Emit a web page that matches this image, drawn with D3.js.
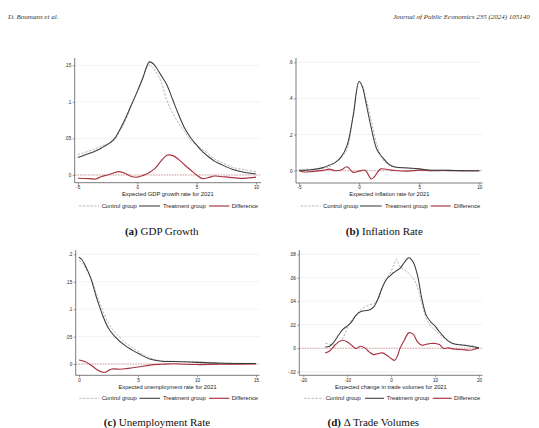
<!DOCTYPE html>
<html><head><meta charset="utf-8">
<script src="https://cdn.jsdelivr.net/npm/d3@7"></script>
<style>body{margin:0;background:#fff}svg{display:block}</style>
</head><body><svg id="c" width="539" height="428"></svg>
<script>
// ---- Panel (a) GDP growth ----
const aX = [-5,-4,-3,-2,-1.5,-1,-0.5,0,0.5,0.75,1,1.25,1.5,2,2.5,3,3.5,4,4.5,5,5.5,6,6.5,7,8,9,10];
const aT = [0.024,0.0296,0.037,0.048,0.061,0.077,0.0956,0.114,0.134,0.146,0.1545,0.1535,0.1494,0.1366,0.123,0.1025,0.082,0.0638,0.051,0.041,0.032,0.025,0.019,0.015,0.0078,0.0037,0.0014];
const aC = [0.028,0.033,0.0395,0.0465,0.059,0.074,0.094,0.113,0.133,0.145,0.1505,0.148,0.143,0.128,0.102,0.084,0.0706,0.059,0.047,0.041,0.035,0.0285,0.022,0.018,0.0105,0.0073,0.0046];
const aDX = [-5,-4,-3.5,-3,-2.5,-2,-1.5,-1,-0.5,0,0.5,1,1.5,2,2.5,3,3.5,4,4.5,5,5.5,6,6.5,7,8,9,10];
const aD = [-0.0045,-0.005,-0.0055,-0.002,0,0.0027,0.0046,0.002,-0.002,-0.003,-0.0005,0.0032,0.009,0.019,0.027,0.0265,0.021,0.0137,0.0068,0,-0.005,-0.0035,-0.0014,-0.002,-0.0035,-0.0046,-0.003];
const aXTicks = [-5,0,5,10];
const aYTicks = [0,0.05,0.1,0.15];

// ---- Panel (b) Inflation ----
const bX = [-5,-4.5,-4,-3,-2.5,-2,-1.5,-1,-0.5,0,0.3,0.5,1,1.5,2,2.5,3,4,5,6,7,8,9,10];
const bT = [0.002,0.003,0.005,0.017,0.03,0.045,0.075,0.14,0.30,0.495,0.46,0.40,0.24,0.115,0.07,0.035,0.02,0.015,0.01,0.003,0.003,0.001,0,0];
const bC = [0.002,0.008,0.008,0.014,0.022,0.045,0.072,0.12,0.31,0.49,0.465,0.42,0.28,0.14,0.06,0.03,0.018,0.017,0.008,0.003,0.003,0.001,0,0];
const bDX = [-5,-4.5,-4,-3,-2.5,-2,-1.5,-1,-0.5,0,0.5,0.75,1,1.25,1.5,1.8,2.5,3,4,5,6,7,8,10];
const bD = [0,-0.007,-0.005,0.002,0.009,0,0.004,0.022,-0.009,-0.002,0.003,-0.02,-0.046,-0.035,-0.012,0.01,0.005,0.001,-0.002,0.003,0,0.001,0,0];
const bXTicks = [-5,0,5,10];
const bYTicks = [0,0.2,0.4,0.6];

// ---- Panel (c) Unemployment ----
const cX = [0,0.25,0.5,1,1.5,2,2.5,3,4,5,6,7,8,10,12,15];
const cT = [0.1947,0.19,0.181,0.156,0.12,0.089,0.065,0.051,0.032,0.0195,0.009,0.005,0.0045,0.003,0.0015,0.001];
const cC = [0.1886,0.185,0.177,0.158,0.126,0.098,0.074,0.059,0.038,0.023,0.011,0.006,0.005,0.004,0.002,0.001];
const cDX = [0,0.5,1,1.5,2,2.3,2.7,3,3.5,4,5,6,7,8,9,10,12,15];
const cD = [0.0073,0.0045,-0.002,-0.01,-0.015,-0.0145,-0.0095,-0.009,-0.0095,-0.0085,-0.0055,-0.002,-0.0005,0.0005,-0.0005,-0.001,-0.0005,0];
const cXTicks = [0,5,10,15];
const cYTicks = [0,0.05,0.1,0.15,0.2];

// ---- Panel (d) Trade volumes ----
const dX = [-15,-14,-13,-12,-11,-10,-9,-8,-7,-6,-5,-4,-3,-2,-1,0,0.6,1.2,2,3,4,5,6,7,8,9,10,11,12,13,14,15,17,19,20];
const dT = [0.001,0.0017,0.0054,0.011,0.016,0.0188,0.0225,0.028,0.031,0.032,0.0325,0.035,0.042,0.052,0.059,0.0624,0.0645,0.066,0.068,0.073,0.077,0.0735,0.062,0.042,0.028,0.0225,0.0188,0.014,0.0097,0.006,0.004,0.0031,0.0023,0.0011,0.0003];
const dC = [0.0043,0.0034,0.0028,0.0045,0.0085,0.0168,0.024,0.028,0.0325,0.035,0.037,0.038,0.0416,0.051,0.0596,0.0653,0.071,0.0758,0.0695,0.0667,0.0638,0.0596,0.052,0.038,0.0254,0.0188,0.0154,0.0117,0.0091,0.0068,0.0046,0.0034,0.0026,0.0017,0];
const dDX = [-15,-14,-13,-12,-11,-10,-9,-8,-7,-6,-5,-4,-3,-2,-1,0,0.8,1.5,2,3,4,5,6,7,8,9,10,11,12,13,14,16,18,19,20];
const dD = [-0.004,-0.0023,0.0017,0.0054,0.0068,0.0054,0.0026,-0.0003,0.0017,0.0003,-0.0031,-0.0054,-0.0046,-0.004,-0.006,-0.0088,-0.0103,-0.006,-0.0003,0.0068,0.0131,0.012,0.0054,0.0026,0.0034,0.004,0.004,0.0031,-0.0003,0.0003,-0.0006,-0.0011,-0.0017,-0.0009,0.0003];
const dXTicks = [-20,-10,0,10,20];
const dYTicks = [-0.02,0,0.02,0.04,0.06,0.08];

const legendLabels = ["Control group","Treatment group","Difference"];
const axisTitles = ["Expected GDP growth rate for 2021","Expected inflation rate for 2021","Expected unemployment rate for 2021","Expected change in trade volumes for 2021"];
const captionTags = ["(a)","(b)","(c)","(d)"];
const captionTexts = ["GDP Growth","Inflation Rate","Unemployment Rate","\u0394 Trade Volumes"];
const headerLeft = "D. Boumans et al.";
const headerRight = "Journal of Public Economics 235 (2024) 105140";

const svg = d3.select("#c");
const SANS = "'Liberation Sans', Arial, sans-serif";
const SERIF = "'Liberation Serif', 'Times New Roman', serif";
const COL = {T:"#3b3b3b", C:"#a3a3a3", D:"#a8323e", zero:"#c65c5c", grid:"#e4ecee", axis:"#5a5a5a", text:"#222"};

svg.append("text").attr("x",8).attr("y",18.5).attr("font-family",SERIF).attr("font-style","italic")
  .attr("font-size",7).attr("fill","#333").text(headerLeft);
svg.append("text").attr("x",393).attr("y",18.5).attr("font-family",SERIF).attr("font-style","italic")
  .attr("font-size",7).attr("fill","#333").text(headerRight);

const fmt = d => d === 0 ? "0" : String(+d.toFixed(4)).replace(/^(-?)0\./, "$1.");

function panel(cfg){
  const g = svg.append("g");
  const x = d3.scaleLinear().domain(cfg.xd).range(cfg.xr);
  const y = d3.scaleLinear().domain(cfg.yd).range(cfg.yr);
  const [L,R,T,B] = cfg.box;
  g.selectAll(".grid").data(cfg.yt).enter().append("line")
    .attr("x1",L).attr("x2",R).attr("y1",d=>y(d)).attr("y2",d=>y(d))
    .attr("stroke",COL.grid).attr("stroke-width",0.6);
  g.append("line").attr("x1",L).attr("x2",R).attr("y1",y(0)).attr("y2",y(0))
    .attr("stroke",COL.zero).attr("stroke-width",0.55).attr("stroke-dasharray","1.6,1.1");
  const ya = d3.axisLeft(y).tickValues(cfg.yt).tickFormat(fmt).tickSize(2).tickPadding(1.5);
  const xa = d3.axisBottom(x).tickValues(cfg.xt).tickFormat(fmt).tickSize(2).tickPadding(1.2);
  const gy = g.append("g").attr("transform",`translate(${L},0)`).call(ya);
  const gx = g.append("g").attr("transform",`translate(0,${B})`).call(xa);
  [gy,gx].forEach(a=>{
    a.select(".domain").remove();
    a.selectAll("line").attr("stroke",COL.axis).attr("stroke-width",0.6);
    a.selectAll("text").attr("font-family",SANS).attr("font-size",4.6).attr("fill",COL.text);
  });
  g.append("line").attr("x1",L).attr("x2",L).attr("y1",T).attr("y2",B).attr("stroke",COL.axis).attr("stroke-width",0.8);
  g.append("line").attr("x1",L).attr("x2",R).attr("y1",B).attr("y2",B).attr("stroke",COL.axis).attr("stroke-width",0.8);
  const line = (xs,ys) => d3.line().x((d,i)=>x(xs[i])).y(d=>y(d)).curve(d3.curveCatmullRom.alpha(0.5))(ys);
  g.append("path").attr("d",line(cfg.dx,cfg.d)).attr("fill","none").attr("stroke",COL.D).attr("stroke-width",1.15);
  g.append("path").attr("d",line(cfg.x,cfg.c)).attr("fill","none").attr("stroke",COL.C).attr("stroke-width",0.8).attr("stroke-dasharray","2.4,1.4");
  g.append("path").attr("d",line(cfg.x,cfg.t)).attr("fill","none").attr("stroke",COL.T).attr("stroke-width",1.05);
  g.append("text").attr("x",(L+R)/2).attr("y",B+13.2).attr("text-anchor","middle")
    .attr("font-family",SANS).attr("font-size",5.8).attr("fill",COL.text).text(cfg.title);
  const ly = cfg.ly;
  const styles = [{s:COL.C,w:0.8,da:"2.4,1.4"},{s:COL.T,w:1.05,da:null},{s:COL.D,w:1.15,da:null}];
  legendLabels.forEach((lab,i)=>{
    const [a,b,tx] = cfg.leg[i];
    g.append("line").attr("x1",a).attr("x2",b).attr("y1",ly).attr("y2",ly)
      .attr("stroke",styles[i].s).attr("stroke-width",styles[i].w).attr("stroke-dasharray",styles[i].da);
    g.append("text").attr("x",tx).attr("y",ly+2).attr("font-family",SANS).attr("font-size",5.8)
      .attr("fill",COL.text).text(lab);
  });
  const cap = g.append("text").attr("x",cfg.cap[0]).attr("y",cfg.cap[1]).attr("text-anchor","middle")
    .attr("font-family",SERIF).attr("font-size",11).attr("fill","#111");
  cap.append("tspan").attr("font-weight","bold").text(cfg.tag);
  cap.append("tspan").text(" " + cfg.capText);
}

panel({x:aX,t:aT,c:aC,dx:aDX,d:aD,xt:aXTicks,yt:aYTicks,xd:[-5,10],xr:[77.8,256],yd:[0,0.15],yr:[175,65.3],
  box:[74.7,261,58,182.7],title:axisTitles[0],ly:206,leg:[[79,99.3,101.7],[139,160,163],[209,229.3,231.7]],
  cap:[161.7,235],tag:captionTags[0],capText:captionTexts[0]});
panel({x:bX,t:bT,c:bC,dx:bDX,d:bD,xt:bXTicks,yt:bYTicks,xd:[-5,10],xr:[299,479.3],yd:[0,0.6],yr:[170.7,62.3],
  box:[296,482.5,58,183],title:axisTitles[1],ly:206,leg:[[300.7,320.7,323],[360,381.7,385],[430.7,450.7,454]],
  cap:[384.3,235],tag:captionTags[1],capText:captionTexts[1]});
panel({x:cX,t:cT,c:cC,dx:cDX,d:cD,xt:cXTicks,yt:cYTicks,xd:[0,15],xr:[79,256],yd:[0,0.2],yr:[364,254.3],
  box:[75.7,259.5,250,375.3],title:axisTitles[2],ly:398.3,leg:[[79.3,99.3,101.7],[139.3,160,163],[209,229.3,231.7]],
  cap:[157,425.5],tag:captionTags[2],capText:captionTexts[2]});
panel({x:dX,t:dT,c:dC,dx:dDX,d:dD,xt:dXTicks,yt:dYTicks,xd:[-20,20],xr:[303.3,479],yd:[-0.02,0.08],yr:[371.7,254.3],
  box:[299.3,482.5,250,375.3],title:axisTitles[3],ly:398.3,leg:[[304,323.3,325.7],[365,384,386.7],[432.7,451.7,454]],
  cap:[373.3,425.5],tag:captionTags[3],capText:captionTexts[3]});
</script></body></html>
